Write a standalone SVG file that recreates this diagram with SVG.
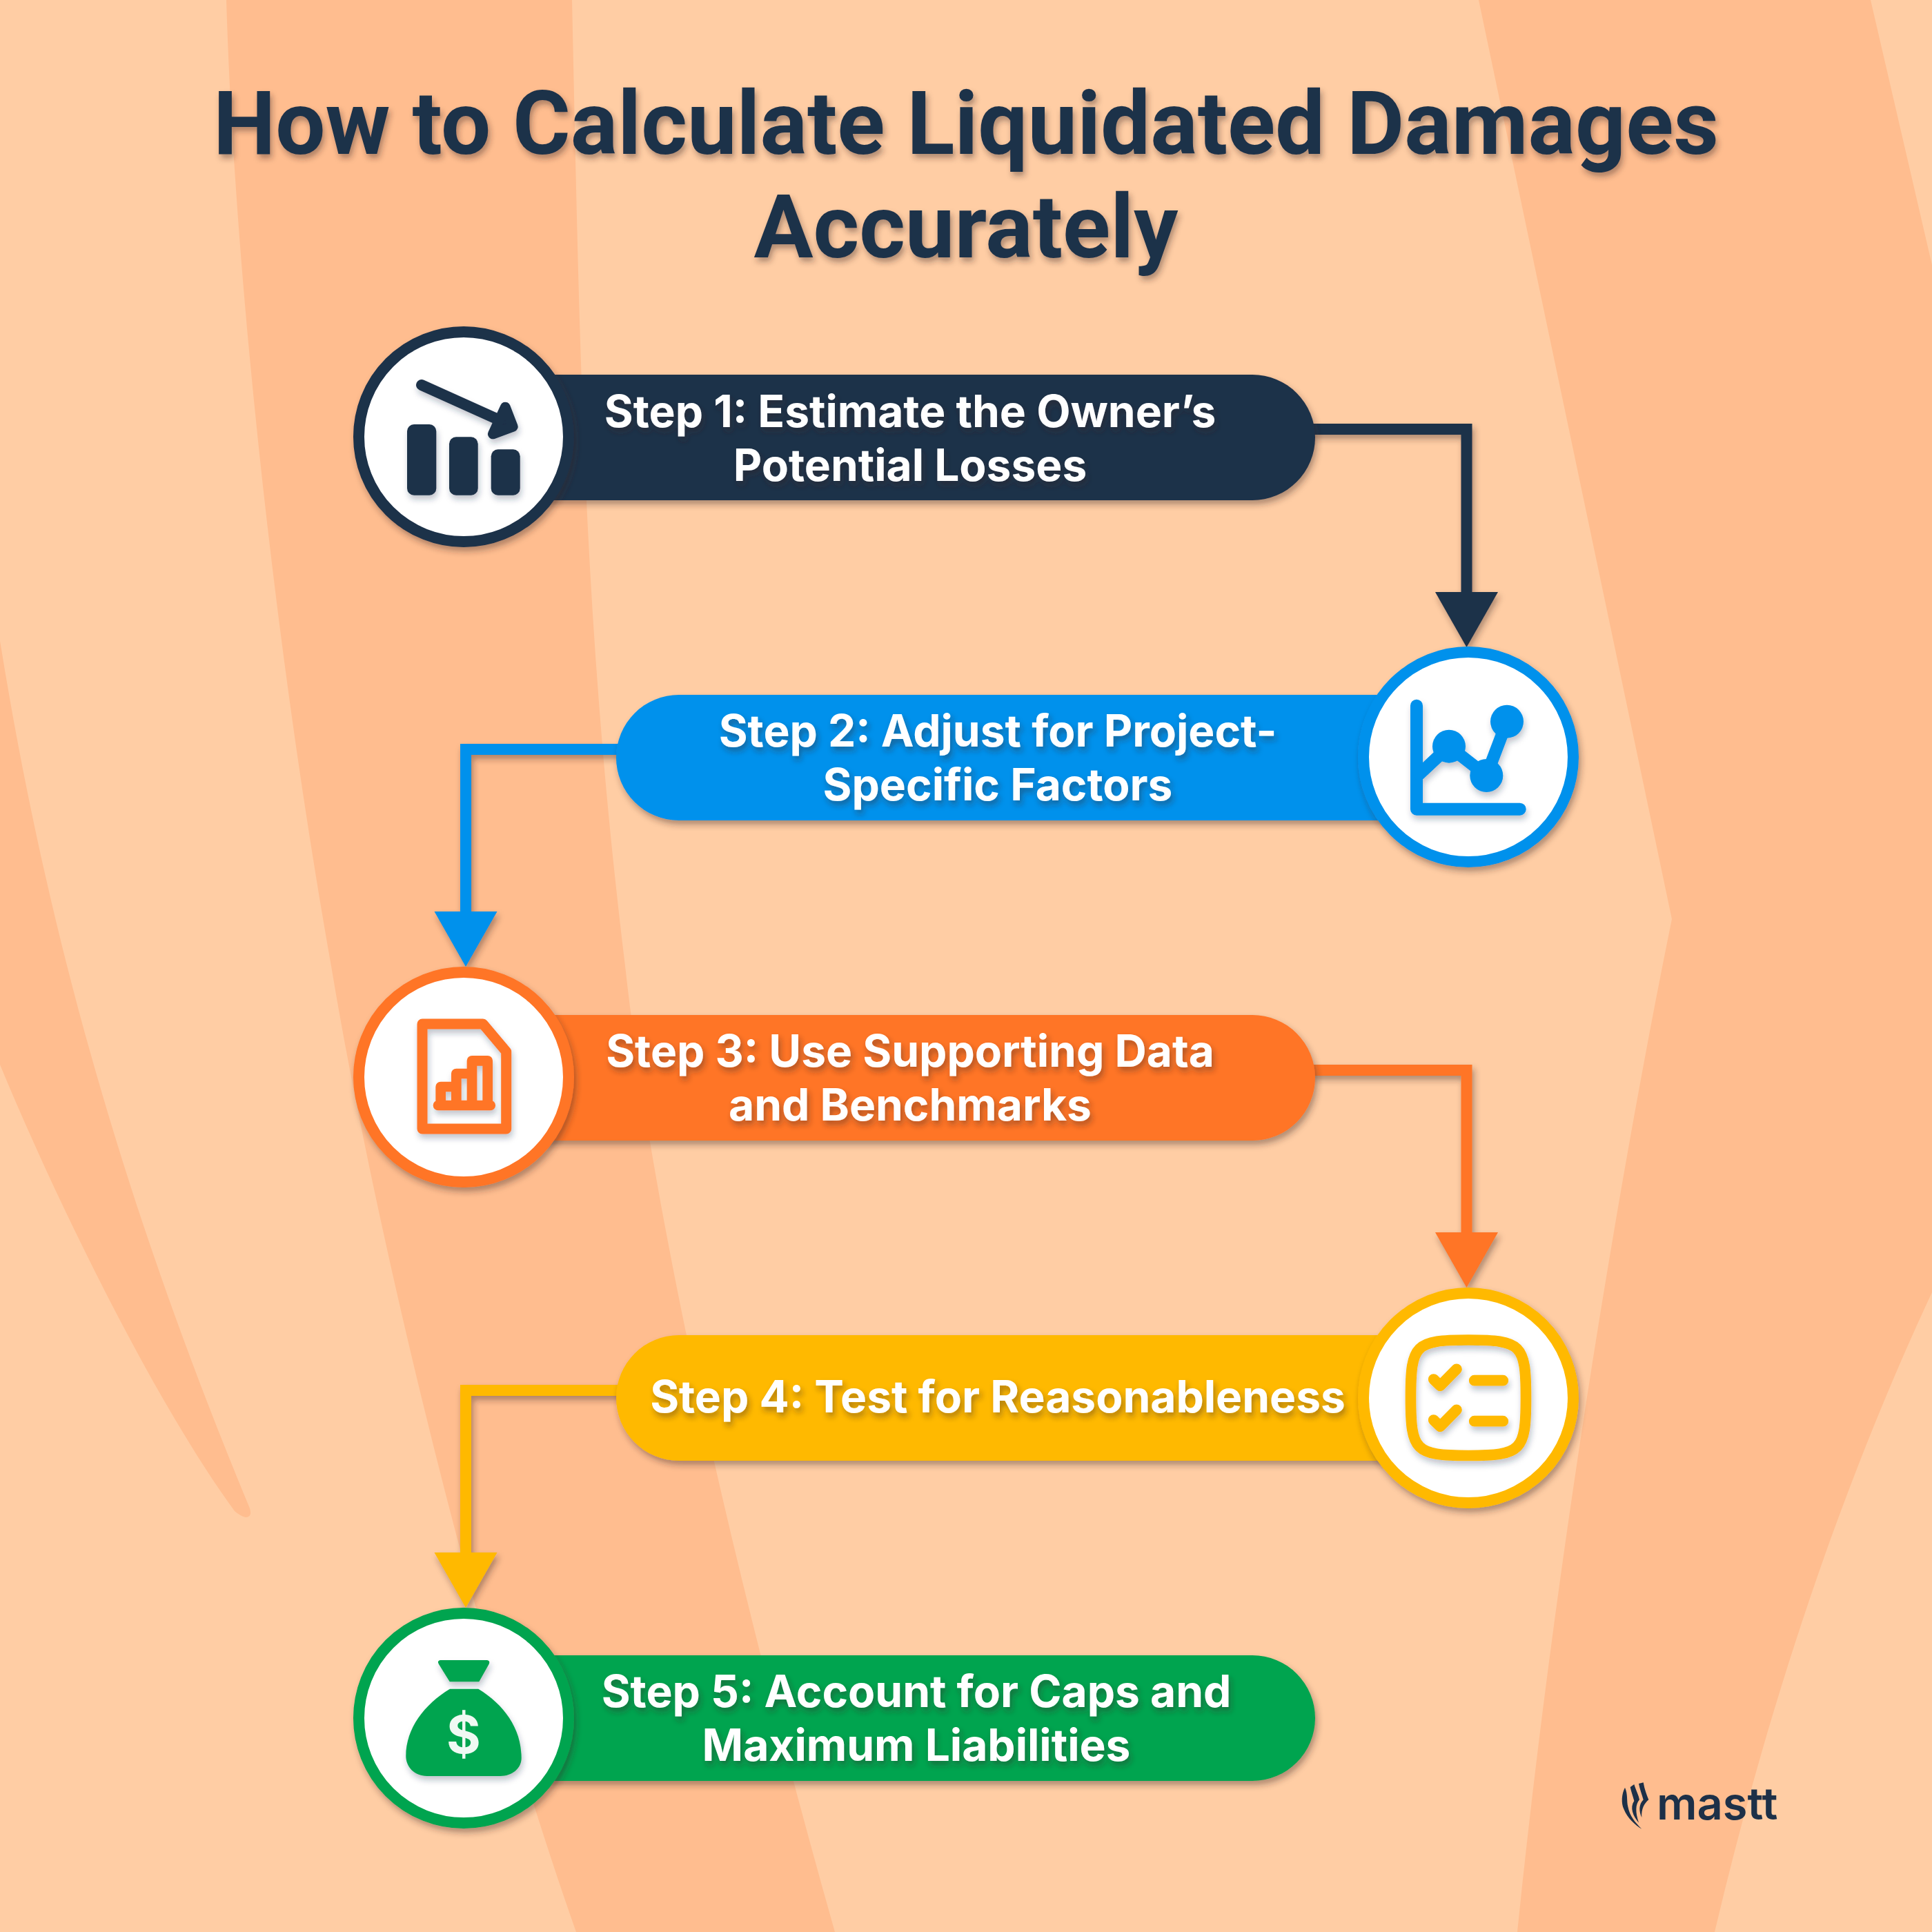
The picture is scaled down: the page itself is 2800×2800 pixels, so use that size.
<svg xmlns="http://www.w3.org/2000/svg" width="2800" height="2800" viewBox="0 0 2800 2800">
<style>
.band{fill:#FFBD8F}
.title{font-family:"Roboto","Liberation Sans",sans-serif;font-weight:700;font-size:128px;fill:#1D3048;text-anchor:middle}
.label{font-family:"Inter","Liberation Sans",sans-serif;font-weight:700;font-size:64px;fill:#fff;text-anchor:middle}
.ln{fill:none;stroke-width:16;stroke-linejoin:miter}
.ring{fill:#fff;stroke-width:16}
.navy{fill:#1D3048;stroke:#1D3048}.blue{fill:#0091EC;stroke:#0091EC}.orange{fill:#FF7426;stroke:#FF7426}.yellow{fill:#FFB900;stroke:#FFB900}.green{fill:#00A44F;stroke:#00A44F}
.fn{stroke:none}
.sn{fill:none;stroke-linecap:round;stroke-linejoin:round}
</style>
<defs>
<filter id="ts" x="-5%" y="-20%" width="110%" height="140%"><feDropShadow dx="3" dy="6" stdDeviation="4" flood-color="#3a2a20" flood-opacity=".4"/></filter>
<filter id="ss" x="-20%" y="-20%" width="140%" height="140%"><feDropShadow dx="3" dy="6" stdDeviation="5" flood-color="#3a2a20" flood-opacity=".4"/></filter>
<filter id="is" x="-20%" y="-20%" width="140%" height="140%"><feDropShadow dx="2" dy="6" stdDeviation="4" flood-color="#1D3048" flood-opacity=".28"/></filter>
</defs>
<rect width="2800" height="2800" fill="#FFCDA4"/>
<g id="background">
<path class="band" d="M328 0C340 400 400 950 480 1400C540 1760 680 2360 835 2800H1210C1080 2340 950 1800 906 1400C845 900 840 500 829 0Z"/>
<path class="band" d="M0 929C60 1300 160 1700 362 2186Q366 2199 356 2199Q348 2197 340 2190C230 2040 90 1760 0 1543Z"/>
<path class="band" d="M2143 0L2423 1332C2340 1740 2250 2300 2199 2800H2485C2570 2440 2680 2130 2800 1873V384L2711 0Z"/>
</g>
<g id="title" filter="url(#ts)">
<text class="title" x="1400" y="223">How to Calculate Liquidated Damages</text>
<text class="title" x="1400" y="373">Accurately</text>
</g>
<g id="connectors" filter="url(#ss)">
<g id="c1"><path class="ln navy" style="fill:none" d="M1900 622H2125.500V870"/><polygon class="navy fn" points="2080,858 2171,858 2125.500,938"/></g>
<g id="c2"><path class="ln blue" style="fill:none" d="M900 1086H675V1330"/><polygon class="blue fn" points="629.500,1321 720.500,1321 675,1401"/></g>
<g id="c3"><path class="ln orange" style="fill:none" d="M1900 1551H2125.500V1800"/><polygon class="orange fn" points="2080,1786 2171,1786 2125.500,1866"/></g>
<g id="c4"><path class="ln yellow" style="fill:none" d="M900 2015H675V2260"/><polygon class="yellow fn" points="629.500,2250 720.500,2250 675,2330"/></g>
</g>
<g id="step1">
<rect class="navy fn" x="700" y="543" width="1206" height="182" rx="91" filter="url(#ss)"/>
<circle class="ring" style="stroke:#1D3048" cx="672" cy="633" r="152" filter="url(#ss)"/>
<g filter="url(#is)">
<rect class="navy fn" x="590" y="615" width="42.300" height="102.700" rx="10"/>
<rect class="navy fn" x="651" y="633.300" width="41.700" height="84.400" rx="10"/>
<rect class="navy fn" x="711.700" y="651.300" width="42" height="66.400" rx="10"/>
<path class="sn" style="stroke:#1D3048;stroke-width:16" d="M611 558L722 608"/>
<polygon class="navy" style="stroke-width:14.700;stroke-linejoin:round" points="732.300,590 743.300,618.300 714.300,629"/>
</g>
<text class="label" filter="url(#ts)"><tspan x="1319" y="619">Step 1: Estimate the Owner’s</tspan><tspan x="1319" y="697">Potential Losses</tspan></text>
</g>
<g id="step2">
<rect class="blue fn" x="893" y="1007" width="1250" height="182" rx="91" filter="url(#ss)"/>
<circle class="ring" style="stroke:#0091EC" cx="2128" cy="1097" r="152" filter="url(#ss)"/>
<g filter="url(#is)">
<path class="sn" style="stroke:#0091EC;stroke-width:18" d="M2053 1022.700V1172.700H2202.700"/>
<path class="sn" style="stroke:#0091EC;stroke-width:18" d="M2057 1122L2100 1081.700L2154.300 1124L2184 1045.700"/>
<circle class="blue fn" cx="2100" cy="1081.700" r="24"/><circle class="blue fn" cx="2154.300" cy="1124" r="24"/><circle class="blue fn" cx="2184" cy="1045.700" r="24"/>
</g>
<text class="label" filter="url(#ts)"><tspan x="1446" y="1082">Step 2: Adjust for Project-</tspan><tspan x="1446" y="1160">Specific Factors</tspan></text>
</g>
<g id="step3">
<rect class="orange fn" x="700" y="1471" width="1206" height="182" rx="91" filter="url(#ss)"/>
<circle class="ring" style="stroke:#FF7426" cx="672" cy="1561" r="152" filter="url(#ss)"/>
<g filter="url(#is)">
<path class="sn" style="stroke:#FF7426;stroke-width:15" d="M612 1484H700L733.700 1524V1636H612Z"/>
<path class="sn" style="stroke:#FF7426;stroke-width:14.700" d="M635 1602H710.700M638.700 1602V1575H661.300V1556H684V1537.300H706.700V1602M661.300 1575V1602M684 1556V1602"/>
</g>
<text class="label" filter="url(#ts)"><tspan x="1319" y="1546">Step 3: Use Supporting Data</tspan><tspan x="1319" y="1624">and Benchmarks</tspan></text>
</g>
<g id="step4">
<rect class="yellow fn" x="893" y="1935" width="1250" height="182" rx="91" filter="url(#ss)"/>
<circle class="ring" style="stroke:#FFB900" cx="2128" cy="2026" r="152" filter="url(#ss)"/>
<g filter="url(#is)">
<path class="sn" style="stroke:#FFB900;stroke-width:15.700" d="M2128 1942C2205 1942 2211.500 1948 2211.500 2025.700C2211.500 2103 2205 2109.500 2128 2109.500C2051 2109.500 2044.500 2103 2044.500 2025.700C2044.500 1948 2051 1942 2128 1942Z"/>
<path class="sn" style="stroke:#FFB900;stroke-width:15.700" d="M2077.700 1999L2087.300 2008.300L2111 1984.300M2136.700 2000.700H2178.300M2077.700 2058L2087.300 2067.300L2111 2043.300M2136.700 2059.700H2178.300"/>
</g>
<text class="label" filter="url(#ts)" x="1446" y="2047">Step 4: Test for Reasonableness</text>
</g>
<g id="step5">
<rect class="green fn" x="700" y="2399" width="1206" height="182" rx="91" filter="url(#ss)"/>
<circle class="ring" style="stroke:#00A44F" cx="672" cy="2490" r="152" filter="url(#ss)"/>
<g filter="url(#is)">
<path class="green fn" d="M638 2406H706Q711 2407 708.500 2412L694.300 2437.300H651.700L636 2412Q633 2407 638 2406Z"/>
<path class="green fn" d="M652 2447.700H693.300C730 2470 756 2505 755.700 2548C755.700 2563 742 2574 725 2574H619C600 2574 588.300 2560 588.300 2545C588.300 2505 615 2470 652 2447.700Z"/>
</g>
<text x="672" y="2541" font-family="Inter,'Liberation Sans',sans-serif" font-weight="700" font-size="76" fill="#EFF9F3" text-anchor="middle">$</text>
<text class="label" filter="url(#ts)"><tspan x="1328" y="2474">Step 5: Account for Caps and</tspan><tspan x="1328" y="2552">Maximum Liabilities</tspan></text>
</g>
<g id="logo">
<g transform="translate(2320 2560) scale(.3333)" fill="#1D3048">
<path d="M105 92C90 120 88 160 100 185C115 225 150 255 178 272C150 245 125 215 118 175C112 150 118 120 105 92Z"/>
<path d="M128 90L145 78C155 110 165 125 168 145C150 165 150 200 165 245C140 215 125 180 145 150C140 130 132 110 128 90Z"/>
<path d="M165 75L185 70C190 100 200 125 208 145C190 160 175 185 178 222C165 195 165 165 185 145C178 120 170 100 165 75Z"/>
</g>
<text x="2401" y="2637" font-family="Inter,'Liberation Sans',sans-serif" font-weight="600" font-size="65" fill="#1D3048">mastt</text>
</g>
</svg>
